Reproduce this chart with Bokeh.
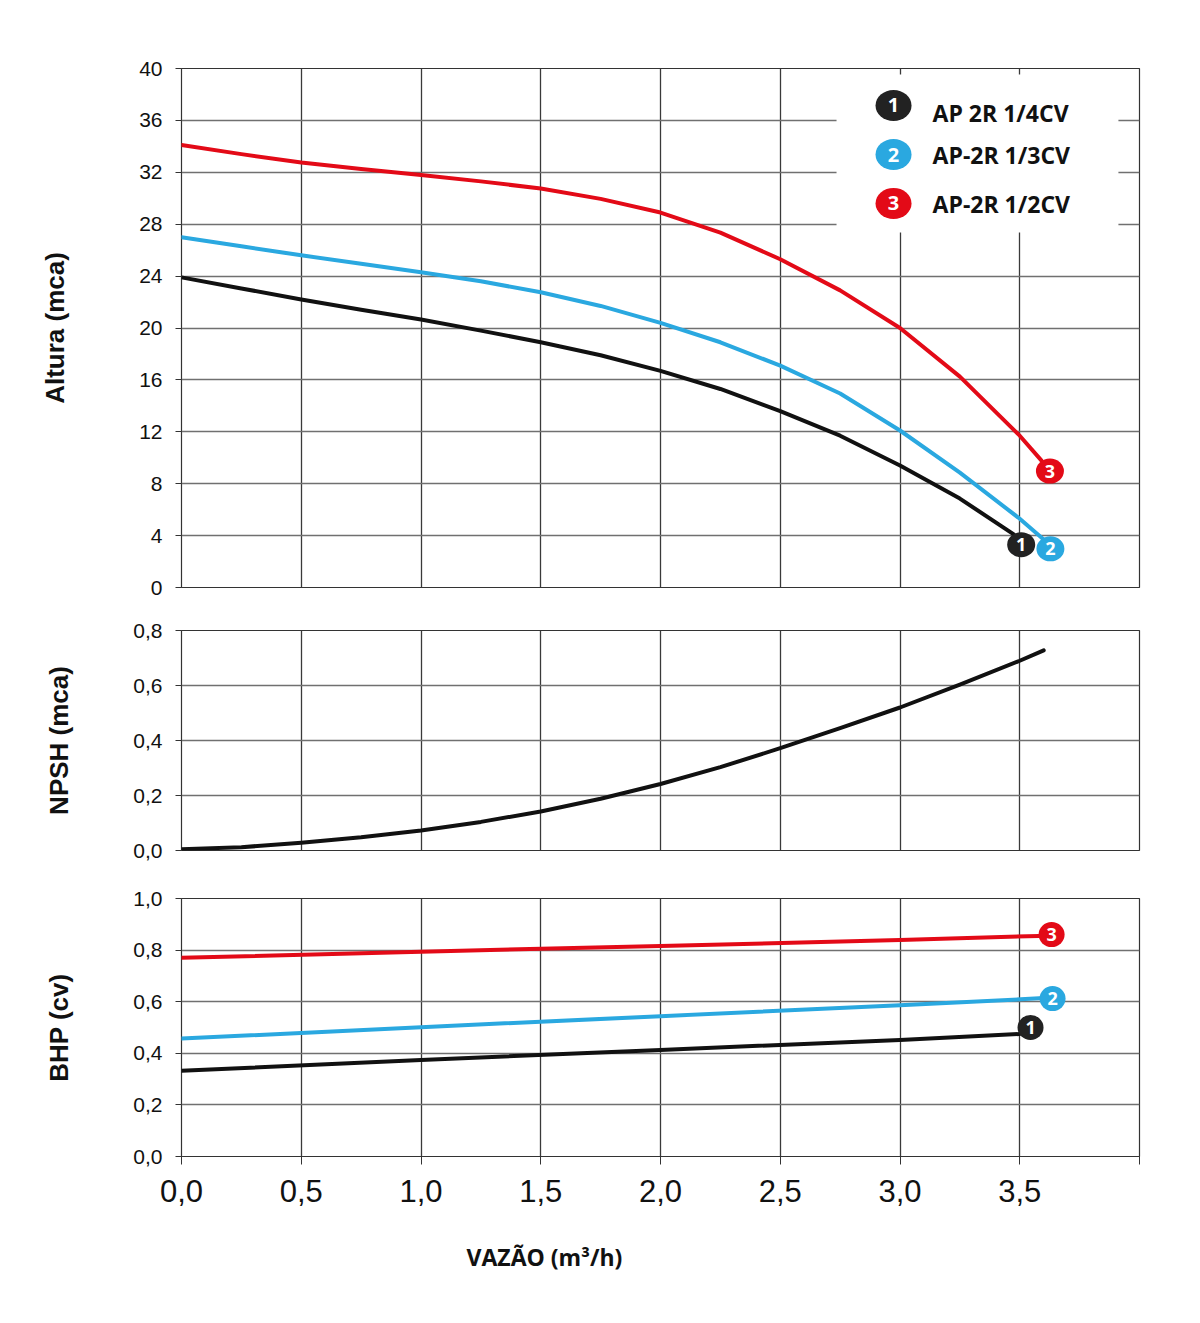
from bokeh.plotting import figure
from bokeh.layouts import column
from bokeh.models import Range1d, FixedTicker, BoxAnnotation, Title, ColumnDataSource
from bokeh.core.properties import value
from bokeh.embed import file_html
from bokeh.resources import INLINE

# ---------------- data ----------------
x_ticks = [0.0, 0.5, 1.0, 1.5, 2.0, 2.5, 3.0, 3.5, 4.0]
x_labels = ["0,0", "0,5", "1,0", "1,5", "2,0", "2,5", "3,0", "3,5", ""]

models = ["AP 2R 1/4CV", "AP-2R 1/3CV", "AP-2R 1/2CV"]
badge_nums = ["1", "2", "3"]

# Altura (mca)
h1_x = [0.0, 0.25, 0.5, 0.75, 1.0, 1.25, 1.5, 1.75, 2.0, 2.25, 2.5, 2.75, 3.0, 3.25, 3.475]
h1_y = [23.9, 23.05, 22.2, 21.4, 20.65, 19.8, 18.9, 17.9, 16.7, 15.3, 13.6, 11.7, 9.4, 6.85, 4.1]
h2_x = [0.0, 0.25, 0.5, 0.75, 1.0, 1.25, 1.5, 1.75, 2.0, 2.25, 2.5, 2.75, 3.0, 3.25, 3.5, 3.6]
h2_y = [27.0, 26.3, 25.6, 24.95, 24.3, 23.6, 22.75, 21.7, 20.4, 18.9, 17.1, 14.95, 12.1, 8.85, 5.3, 3.7]
h3_x = [0.0, 0.25, 0.5, 0.75, 1.0, 1.25, 1.5, 1.75, 2.0, 2.25, 2.5, 2.75, 3.0, 3.25, 3.5, 3.59]
h3_y = [34.1, 33.4, 32.75, 32.25, 31.8, 31.3, 30.75, 29.95, 28.9, 27.35, 25.3, 22.9, 20.0, 16.25, 11.7, 9.8]
h_badge_x = [3.506, 3.628, 3.626]
h_badge_y = [3.3, 2.98, 8.97]
h_ticks = [0, 4, 8, 12, 16, 20, 24, 28, 32, 36, 40]

# NPSH (mca)
npsh_x = [0.0, 0.25, 0.5, 0.75, 1.0, 1.25, 1.5, 1.75, 2.0, 2.25, 2.5, 2.75, 3.0, 3.25, 3.5, 3.6]
npsh_y = [0.005, 0.012, 0.028, 0.048, 0.073, 0.104, 0.142, 0.188, 0.242, 0.303, 0.372,
          0.445, 0.52, 0.603, 0.69, 0.728]
npsh_ticks = [0.0, 0.2, 0.4, 0.6, 0.8]
npsh_labels = ["0,0", "0,2", "0,4", "0,6", "0,8"]

# BHP (cv)
b1_x = [0.0, 1.0, 2.0, 3.0, 3.5]
b1_y = [0.332, 0.374, 0.413, 0.452, 0.475]
b2_x = [0.0, 1.0, 2.0, 3.0, 3.6]
b2_y = [0.457, 0.501, 0.544, 0.586, 0.614]
b3_x = [0.0, 1.0, 2.0, 3.0, 3.58]
b3_y = [0.770, 0.794, 0.816, 0.839, 0.855]
b_badge_x = [3.545, 3.637, 3.633]
b_badge_y = [0.50, 0.612, 0.860]
bhp_ticks = [0.0, 0.2, 0.4, 0.6, 0.8, 1.0]
bhp_labels = ["0,0", "0,2", "0,4", "0,6", "0,8", "1,0"]

# legend layout (inside top panel)
leg_badge_x = [2.973, 2.973, 2.973]
leg_badge_y = [37.15, 33.37, 29.6]
leg_text_x = [3.136, 3.136, 3.136]
leg_text_y = [36.6, 33.3, 29.55]

colors = ["#111111", "#2AA8E0", "#E30A17"]
badge_colors = ["#222222", "#2AA8E0", "#E30A17"]

FONT = "Liberation Sans"
BADGE_FONT = "Open Sans"

x_range = Range1d(0, 4.0)


def base_fig(height, top, bottom, y_range, y_ticks, y_labels, ylabel, standoff):
    p = figure(width=1200, height=height, x_range=x_range, y_range=y_range,
               output_backend="svg", toolbar_location=None,
               min_border_left=181, min_border_right=61,
               min_border_top=top, min_border_bottom=bottom)
    p.title.visible = False
    p.background_fill_color = "white"
    p.border_fill_color = "white"
    p.outline_line_color = "#333333"
    p.outline_line_width = 1.2
    p.xaxis.ticker = FixedTicker(ticks=x_ticks)
    p.xgrid.ticker = FixedTicker(ticks=x_ticks)
    p.xgrid.grid_line_color = "#3a3a3a"
    p.xgrid.grid_line_width = 1.3
    p.yaxis.ticker = FixedTicker(ticks=y_ticks)
    p.ygrid.ticker = FixedTicker(ticks=y_ticks)
    p.ygrid.grid_line_color = "#707070"
    p.ygrid.grid_line_width = 1.6
    p.yaxis.major_label_overrides = {t: l for t, l in zip(y_ticks, y_labels)}
    p.yaxis.axis_line_color = None
    p.yaxis.major_tick_in = 0
    p.yaxis.major_tick_out = 6
    p.yaxis.major_tick_line_color = "#333333"
    p.yaxis.minor_tick_line_color = None
    p.yaxis.major_label_standoff = 13
    p.yaxis.major_label_text_font = FONT
    p.yaxis.major_label_text_font_size = "21px"
    p.yaxis.major_label_text_color = "#111111"
    p.yaxis.axis_label = ylabel
    p.yaxis.axis_label_text_font = FONT
    p.yaxis.axis_label_text_font_style = "bold"
    p.yaxis.axis_label_text_font_size = "26px"
    p.yaxis.axis_label_text_color = "#111111"
    p.yaxis.axis_label_standoff = standoff
    return p


def curve(p, xs, ys, color):
    p.line(xs, ys, line_color=color, line_width=4, line_join="round", line_cap="round")


def badges(p, xs, ys, w, h, fsize):
    src = ColumnDataSource(dict(x=xs, y=ys, c=badge_colors, t=badge_nums))
    p.ellipse(x="x", y="y", width=w, height=h, width_units="screen",
              height_units="screen", fill_color="c", line_color=None, source=src)
    p.text(x="x", y="y", text="t", text_color="white", text_font=value(BADGE_FONT),
           text_font_style="bold", text_font_size=fsize, text_align="center",
           text_baseline="middle", source=src)


# ---------------- top: Altura ----------------
p1 = base_fig(600, 68, 13, Range1d(0, 40), h_ticks, [str(t) for t in h_ticks],
              "Altura (mca)", 66)
p1.xaxis.visible = False
for xs, ys, c in [(h1_x, h1_y, colors[0]), (h2_x, h2_y, colors[1]), (h3_x, h3_y, colors[2])]:
    curve(p1, xs, ys, c)
badges(p1, h_badge_x, h_badge_y, 28, 25, "18px")

p1.add_layout(BoxAnnotation(left=2.735, right=3.912, bottom=27.36, top=39.54,
                            fill_color="white", fill_alpha=1.0, line_color=None,
                            level="underlay"))
badges(p1, leg_badge_x, leg_badge_y, 36, 31, "20px")
p1.text(x=leg_text_x, y=leg_text_y, text=models, text_font=value(BADGE_FONT),
        text_font_style="bold", text_font_size="23px", text_color="#111111",
        text_align="left", text_baseline="middle")

# ---------------- middle: NPSH ----------------
p2 = base_fig(270, 30, 20, Range1d(0, 0.8), npsh_ticks, npsh_labels, "NPSH (mca)", 56)
p2.xaxis.visible = False
curve(p2, npsh_x, npsh_y, colors[0])

# ---------------- bottom: BHP ----------------
p3 = base_fig(453, 28, 167, Range1d(0, 1.0), bhp_ticks, bhp_labels, "BHP (cv)", 56)
p3.xaxis.major_label_overrides = {t: l for t, l in zip(x_ticks, x_labels)}
p3.xaxis.axis_line_color = None
p3.xaxis.major_tick_in = 0
p3.xaxis.major_tick_out = 8
p3.xaxis.major_tick_line_color = "#333333"
p3.xaxis.minor_tick_line_color = None
p3.xaxis.major_label_standoff = 15
p3.xaxis.major_label_text_font = FONT
p3.xaxis.major_label_text_font_size = "31px"
p3.xaxis.major_label_text_color = "#111111"
for xs, ys, c in [(b1_x, b1_y, colors[0]), (b2_x, b2_y, colors[1]), (b3_x, b3_y, colors[2])]:
    curve(p3, xs, ys, c)
badges(p3, b_badge_x, b_badge_y, 26, 25, "18px")

p3.add_layout(Title(text="VAZÃO (m³/h)", align="left", offset=285, standoff=68,
                    text_font=BADGE_FONT, text_font_style="bold", text_font_size="23px",
                    text_color="#111111"), "below")

layout = column(p1, p2, p3, spacing=0)
open("out.html", "w").write(file_html(layout, INLINE))
